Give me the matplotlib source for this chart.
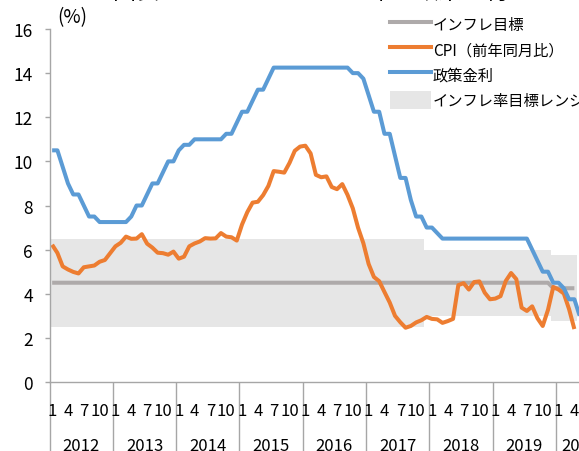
import matplotlib
matplotlib.use('Agg')
import matplotlib.pyplot as plt
import numpy as np
from matplotlib.lines import Line2D
from matplotlib.patches import Patch

plt.rcParams['font.family'] = ['Noto Sans CJK JP', 'DejaVu Sans']

# monthly data, Jan 2012 - Apr/May 2020
cpi = [
    6.22, 5.85, 5.24, 5.10, 4.99, 4.92, 5.20, 5.24, 5.28, 5.45, 5.53, 5.84,     # 2012
    6.15, 6.31, 6.59, 6.49, 6.50, 6.70, 6.27, 6.09, 5.86, 5.84, 5.77, 5.91,     # 2013
    5.59, 5.68, 6.15, 6.28, 6.37, 6.52, 6.50, 6.51, 6.75, 6.59, 6.56, 6.41,     # 2014
    7.14, 7.70, 8.13, 8.17, 8.47, 8.89, 9.56, 9.53, 9.49, 9.93, 10.48, 10.67,   # 2015
    10.71, 10.36, 9.39, 9.28, 9.32, 8.84, 8.74, 8.97, 8.48, 7.87, 6.99, 6.29,   # 2016
    5.35, 4.76, 4.57, 4.08, 3.60, 3.00, 2.71, 2.46, 2.54, 2.70, 2.80, 2.95,     # 2017
    2.86, 2.84, 2.68, 2.76, 2.86, 4.39, 4.48, 4.19, 4.53, 4.56, 4.05, 3.75,     # 2018
    3.78, 3.89, 4.58, 4.94, 4.66, 3.37, 3.22, 3.43, 2.89, 2.54, 3.27, 4.31,     # 2019
    4.19, 4.01, 3.30, 2.40,                                                     # 2020
]
policy_rate = [
    10.50, 10.50, 9.75, 9.00, 8.50, 8.50, 8.00, 7.50, 7.50, 7.25, 7.25, 7.25,
    7.25, 7.25, 7.25, 7.50, 8.00, 8.00, 8.50, 9.00, 9.00, 9.50, 10.00, 10.00,
    10.50, 10.75, 10.75, 11.00, 11.00, 11.00, 11.00, 11.00, 11.00, 11.25, 11.25, 11.75,
    12.25, 12.25, 12.75, 13.25, 13.25, 13.75, 14.25, 14.25, 14.25, 14.25, 14.25, 14.25,
    14.25, 14.25, 14.25, 14.25, 14.25, 14.25, 14.25, 14.25, 14.25, 14.00, 14.00, 13.75,
    13.00, 12.25, 12.25, 11.25, 11.25, 10.25, 9.25, 9.25, 8.25, 7.50, 7.50, 7.00,
    7.00, 6.75, 6.50, 6.50, 6.50, 6.50, 6.50, 6.50, 6.50, 6.50, 6.50, 6.50,
    6.50, 6.50, 6.50, 6.50, 6.50, 6.50, 6.50, 6.00, 5.50, 5.00, 5.00, 4.50,
    4.50, 4.25, 3.75, 3.75, 3.00,
]
target = [4.5] * 95 + [4.25] * 5
band_low = [2.5] * 71 + [3.0] * 24 + [2.75] * 5
band_high = [6.5] * 71 + [6.0] * 24 + [5.75] * 5

years = list(range(2012, 2021))
month_marks = [1, 4, 7, 10]
n_cat = 105  # category axis runs past the crop

c_target, c_cpi, c_rate, c_band = "#aeaaaa", "#ed7d31", "#5b9bd5", "#e6e6e6"
c_axis = "#a6a6a6"
lw = 2.9

fig = plt.figure(figsize=(5.79, 4.52), dpi=100)
ax = fig.add_axes([49.5 / 579, 69 / 452, n_cat * 5.275 / 579, 353 / 452])
ax.set_xlim(0, n_cat)
ax.set_ylim(0, 16)

edges = np.arange(len(band_low) + 1)
ax.fill_between(edges, band_low + band_low[-1:], band_high + band_high[-1:],
                step='post', color=c_band, lw=0)

x_t = np.arange(len(target)) + 0.5
x_c = np.arange(len(cpi)) + 0.5
x_r = np.arange(len(policy_rate)) + 0.5
ax.plot(x_t, target, color=c_target, lw=lw, solid_capstyle='butt', solid_joinstyle='round')
ax.plot(x_c, cpi, color=c_cpi, lw=lw, solid_capstyle='butt', solid_joinstyle='round')
ax.plot(x_r, policy_rate, color=c_rate, lw=lw, solid_capstyle='butt', solid_joinstyle='round')

for s in ['top', 'right']:
    ax.spines[s].set_visible(False)
for s in ['left', 'bottom']:
    ax.spines[s].set_color(c_axis)
    ax.spines[s].set_linewidth(1)

ax.set_yticks(range(0, 17, 2))
ax.tick_params(axis='y', length=3.6, width=1, color=c_axis, pad=8.4, labelsize=12.5)

# year separators go down through the label rows
ax.set_xticks([12 * i for i in range(len(years))])
ax.set_xticklabels([])
ax.tick_params(axis='x', length=52, width=1, color=c_axis)

for i, yr in enumerate(years):
    for m in month_marks:
        pos = 12 * i + m - 0.5
        if pos < n_cat:
            ax.annotate(str(m), xy=(pos, 0), xycoords=('data', 'axes fraction'),
                        xytext=(0, -20.5), textcoords='offset points',
                        ha='center', va='center', fontsize=12)
    mid = (12 * i + min(12 * i + 12, n_cat)) / 2
    ax.annotate(str(yr), xy=(mid, 0), xycoords=('data', 'axes fraction'),
                xytext=(0, -45.5), textcoords='offset points',
                ha='center', va='center', fontsize=12)

handles = [Line2D([], [], color=c_target, lw=lw),
           Line2D([], [], color=c_cpi, lw=lw),
           Line2D([], [], color=c_rate, lw=lw),
           Patch(facecolor=c_band, lw=0)]
labels = ["インフレ目標", "CPI（前年同月比）", "政策金利", "インフレ率目標レンジ"]
fig.legend(handles, labels, loc='upper left', bbox_to_anchor=(390 / 579, (452 - 16) / 452),
           frameon=False, borderpad=0, borderaxespad=0, fontsize=11,
           handlelength=2.7, handleheight=1.45, handletextpad=0.1, labelspacing=0.46)

fig.text(310 / 579, 1 + 0.8 / 452, "図表 ブラジルのインフレ率と政策金利",
         ha='center', va='baseline', fontsize=16.5)
fig.text(57 / 579, 1 - 18 / 452, "(%)", ha='left', va='center', fontsize=13.5)

fig.savefig('out.png', dpi=100)
plt.close(fig)
